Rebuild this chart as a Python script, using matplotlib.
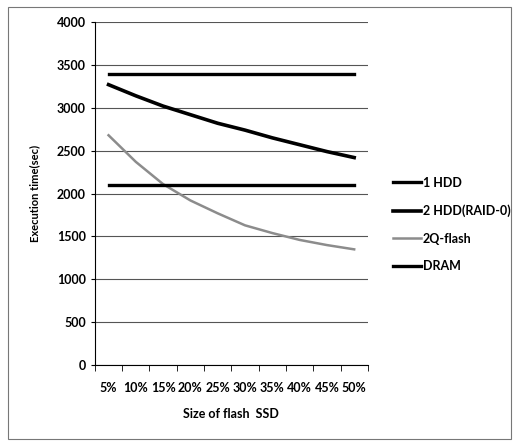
import matplotlib
matplotlib.use("Agg")
import matplotlib.pyplot as plt
from matplotlib.patches import Rectangle

plt.rcParams['font.family'] = ['Lato', 'DejaVu Sans']
plt.rcParams['font.weight'] = 'bold'

sizes = ["5%", "10%", "15%", "20%", "25%", "30%", "35%", "40%", "45%", "50%"]
hdd1 = [3400, 3400, 3400, 3400, 3400, 3400, 3400, 3400, 3400, 3400]
hdd2_raid0 = [3270, 3140, 3020, 2920, 2820, 2740, 2650, 2570, 2490, 2420]
flash_2q = [2680, 2370, 2110, 1920, 1770, 1630, 1540, 1460, 1400, 1350]
dram = [2100, 2100, 2100, 2100, 2100, 2100, 2100, 2100, 2100, 2100]

fig = plt.figure(figsize=(5.13, 4.41), dpi=100)
ax = fig.add_axes([0.185, 0.172, 0.532, 0.778])

x = range(len(sizes))
ax.plot(x, hdd1, color="black", lw=2.4, label="1 HDD")
ax.plot(x, hdd2_raid0, color="black", lw=2.6, label="2 HDD(RAID-0)")
ax.plot(x, flash_2q, color="#8c8c8c", lw=1.8, label="2Q-flash")
ax.plot(x, dram, color="black", lw=2.4, label="DRAM")

ax.set_xlim(-0.5, len(sizes) - 0.5)
ax.set_ylim(0, 4000)
ax.set_yticks(range(0, 4001, 500))
ax.set_xticks(list(x))
ax.set_xticklabels(sizes)
ax.set_xticks([i - 0.5 for i in range(len(sizes) + 1)], minor=True)
ax.tick_params(axis="x", which="major", length=0, pad=12, labelsize=9)
ax.tick_params(axis="x", which="minor", length=4, direction="out")
ax.tick_params(axis="y", length=3, labelsize=9)
ax.yaxis.grid(True, color="#555555", lw=0.8)
ax.set_axisbelow(True)
for s in ["top", "right"]:
    ax.spines[s].set_visible(False)

ax.set_ylabel("Execution time(sec)", fontsize=8, fontweight="bold", labelpad=12)
ax.set_xlabel("Size of flash  SSD", fontsize=9, fontweight="bold", labelpad=10)

ax.legend(loc="center left", bbox_to_anchor=(1.05, 0.41), frameon=False,
          fontsize=9, handlelength=2.3, handletextpad=0.1, labelspacing=1.25)

fig.patches.append(Rectangle((0.016, 0.005), 0.98, 0.98, transform=fig.transFigure,
                             fill=False, edgecolor="#777777", lw=0.8))

fig.savefig("out.png", dpi=100)
